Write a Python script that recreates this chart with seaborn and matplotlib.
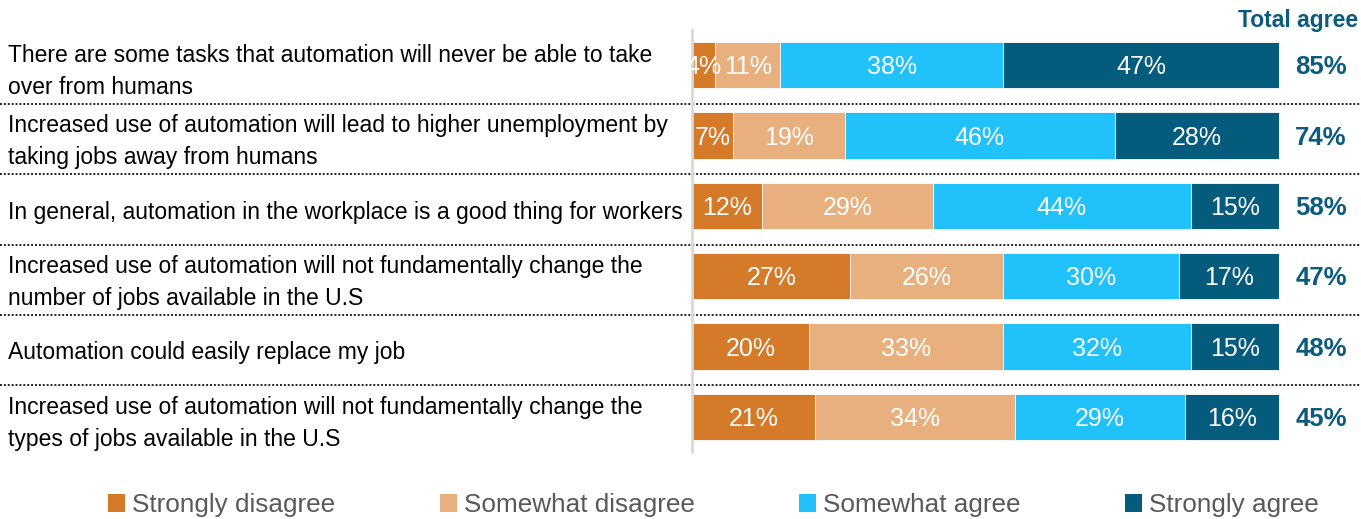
import numpy as np
import pandas as pd
import matplotlib
matplotlib.use("Agg")
import matplotlib.pyplot as plt
from matplotlib import font_manager
from matplotlib.patches import Patch
from matplotlib.transforms import blended_transform_factory
import seaborn as sns

statements = [
    "There are some tasks that automation will never be able to take\nover from humans",
    "Increased use of automation will lead to higher unemployment by\ntaking jobs away from humans",
    "In general, automation in the workplace is a good thing for workers",
    "Increased use of automation will not fundamentally change the\nnumber of jobs available in the U.S",
    "Automation could easily replace my job",
    "Increased use of automation will not fundamentally change the\ntypes of jobs available in the U.S",
]
strongly_disagree = [4, 7, 12, 27, 20, 21]
somewhat_disagree = [11, 19, 29, 26, 33, 34]
somewhat_agree = [38, 46, 44, 30, 32, 29]
strongly_agree = [47, 28, 15, 17, 15, 16]
total_agree = [85, 74, 58, 47, 48, 45]

series_names = ["Strongly disagree", "Somewhat disagree", "Somewhat agree", "Strongly agree"]
series_colors = ["#D47A29", "#E8B07E", "#21C1FB", "#045B7C"]
total_color = "#0B5B7D"
legend_text_color = "#595959"

sns.set_theme(style="white")
installed = {f.name for f in font_manager.fontManager.ttflist}
base_font = "Liberation Sans Narrow" if "Liberation Sans Narrow" in installed else "Liberation Sans"
plt.rcParams["font.family"] = [base_font, "DejaVu Sans"]

series = [strongly_disagree, somewhat_disagree, somewhat_agree, strongly_agree]
values = np.array(series, dtype=float)          # shape (4, rows)
cumulative = values.cumsum(axis=0)
lefts = cumulative - values

df = pd.DataFrame({"statement": statements})
for name, cum in zip(series_names, cumulative):
    df[name] = cum

W, H = 1361, 519
fig = plt.figure(figsize=(W / 100, H / 100), dpi=100)
ax = fig.add_axes([692 / W, 1 - 452 / H, (1279 - 692) / W, 422 / H])

# Stacked bars: draw cumulative totals from the outermost segment inward
for name, color in reversed(list(zip(series_names, series_colors))):
    sns.barplot(data=df, x=name, y="statement", orient="h", color=color,
                width=0.66, edgecolor="white", linewidth=0.6, saturation=1,
                ax=ax)

ax.set_xlim(0, 100)
ax.set_ylim(len(statements) - 0.5, -0.5)
ax.set_xlabel("")
ax.set_ylabel("")
ax.set_xticks([])
ax.set_yticks([])
for side in ["top", "right", "bottom"]:
    ax.spines[side].set_visible(False)
ax.spines["left"].set_color("#D9D9D9")
ax.spines["left"].set_linewidth(2)

# Segment value labels
for s in range(len(series)):
    for r in range(len(statements)):
        v = values[s, r]
        ax.text(lefts[s, r] + v / 2, r + 0.03, f"{int(v)}%", ha="center", va="center",
                color="white", fontsize=18)

fig_y = blended_transform_factory(fig.transFigure, ax.transData)

# Statement labels on the left
for r, label in enumerate(statements):
    fig.text(8 / W, r + 0.09, label, transform=fig_y, ha="left", va="center",
             fontsize=16.5, color="black", linespacing=1.5)

# Total agree column
for r, t in enumerate(total_agree):
    fig.text(1321 / W, r + 0.03, f"{t}%", transform=fig_y, ha="center", va="center",
             fontsize=18.5, fontweight="bold", color=total_color)
fig.text(1358 / W, 1 - 20 / H, "Total agree", ha="right", va="center",
         fontsize=16.5, fontweight="bold", color=total_color)

# Dotted row separators across the full width
for r in range(len(statements) - 1):
    yy = r + 0.55
    ax.plot([0, 1], [yy, yy], transform=fig_y, color="#222222", lw=1.4,
            linestyle=(0, (1, 1)), clip_on=False)

handles = [Patch(facecolor=c, edgecolor="none") for c in series_colors]
fig.legend(handles, series_names, loc="center", bbox_to_anchor=(0.5242, 1 - 505 / H),
           ncol=4, frameon=False, fontsize=18.8, labelcolor=legend_text_color,
           handlelength=0.65, handleheight=0.65, handletextpad=0.27, columnspacing=4.0,
           borderpad=0, borderaxespad=0)

fig.savefig("out.png", dpi=100)
